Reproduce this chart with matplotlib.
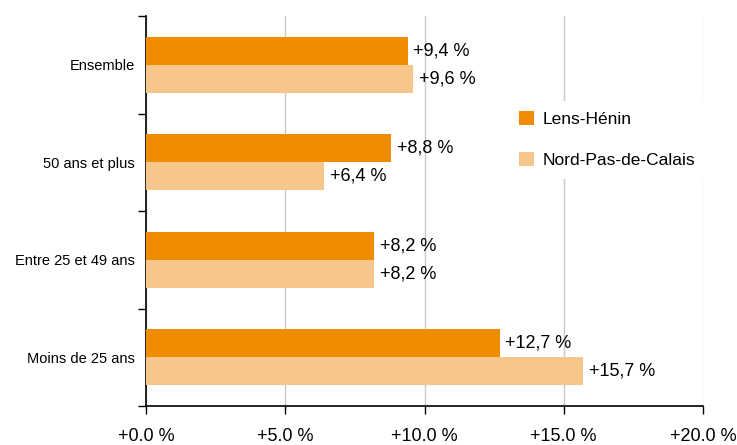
import matplotlib.pyplot as plt
import numpy as np

categories = ['Ensemble', '50 ans et plus', 'Entre 25 et 49 ans', 'Moins de 25 ans']
lens_henin = [9.4, 8.8, 8.2, 12.7]
nord_pdc = [9.6, 6.4, 8.2, 15.7]
series_names = ['Lens-Hénin', 'Nord-Pas-de-Calais']
xticks = [0, 5, 10, 15, 20]

plt.rcParams['font.family'] = ['Liberation Sans Narrow', 'Liberation Sans', 'DejaVu Sans']

fig = plt.figure(figsize=(7.37, 4.45), dpi=100)
ax = fig.add_axes([146 / 737, 1 - 406 / 445, (703 - 146) / 737, (406 - 16) / 445])

y = np.arange(len(categories))[::-1]
h = 0.287
dark = '#F08C00'
light = '#F7C68A'

b1 = ax.barh(y + h / 2, lens_henin, height=h, color=dark, label=series_names[0], zorder=3)
b2 = ax.barh(y - h / 2, nord_pdc, height=h, color=light, label=series_names[1], zorder=3)

def fmt(v):
    return ('+%.1f %%' % v).replace('.', ',')

for bars, vals in [(b1, lens_henin), (b2, nord_pdc)]:
    for bar, v in zip(bars, vals):
        ax.text(v + 0.2, bar.get_y() + bar.get_height() / 2, fmt(v),
                va='center', ha='left', fontsize=13, zorder=4)

ax.set_xlim(0, 20)
ax.set_ylim(-0.5, len(categories) - 0.5)
ax.set_xticks(xticks)
ax.set_xticklabels(['+%.1f %%' % t for t in xticks], fontsize=13)
ax.set_yticks(y)
ax.set_yticklabels(categories, fontsize=10.5)
ax.tick_params(axis='y', length=0, pad=8)
ax.set_yticks(np.arange(-0.5, len(categories), 1), minor=True)
ax.tick_params(axis='y', which='minor', length=6, width=1)
ax.tick_params(axis='x', length=6, width=1, pad=10, direction='out')
ax.grid(axis='x', color='#c8c8c8', linewidth=1, zorder=0)
for s in ['top', 'right']:
    ax.spines[s].set_visible(False)
for s in ['left', 'bottom']:
    ax.spines[s].set_color('black')
    ax.spines[s].set_linewidth(1.2)

ax.legend(loc='upper left', bbox_to_anchor=(0.635, 0.805), frameon=True, facecolor='white',
          edgecolor='none', framealpha=1, fontsize=12.5, handlelength=0.85, handleheight=0.85,
          labelspacing=1.45, handletextpad=0.5, borderpad=0.6)

fig.savefig('out.png', dpi=100)
